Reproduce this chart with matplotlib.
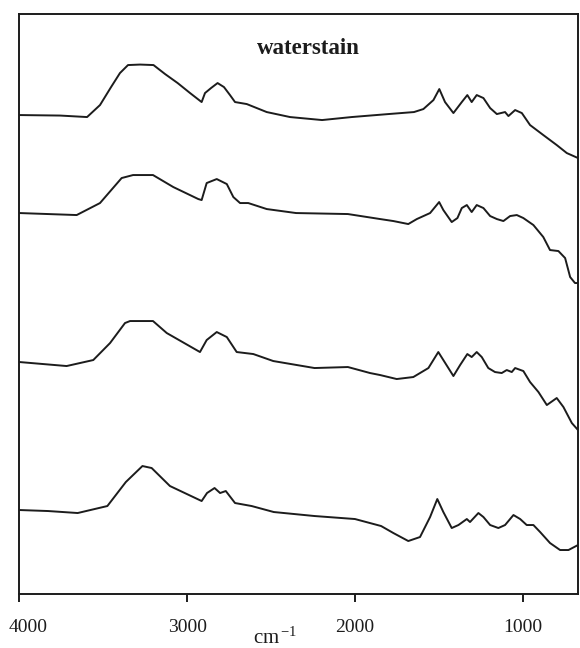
import numpy as np
import matplotlib.pyplot as plt
from matplotlib.transforms import ScaledTranslation

plt.rcParams['font.family'] = ['Liberation Serif', 'DejaVu Serif']
plt.rcParams['mathtext.fontset'] = 'stix'

# wavenumbers (cm-1) and signal (arbitrary units, offset per trace)
wn1 = [4000, 3758, 3597, 3520, 3454, 3401, 3353, 3281, 3201, 3132, 3057, 2983, 2914, 2894,
       2858, 2819, 2781, 2745, 2715, 2645, 2526, 2387, 2196, 2020, 1800, 1648, 1592, 1532,
       1497, 1463, 1413, 1363, 1330, 1304, 1274, 1234, 1194, 1154, 1105, 1085, 1045, 1005,
       956, 877, 797, 737, 670]
s1 = [479, 478.5, 477, 489, 507, 521, 529, 529.5, 529, 520, 511, 501, 492, 501,
      506, 511, 507, 499, 492, 490, 482, 477, 474, 477, 480, 482, 485, 494,
      505, 492, 481, 492, 499, 492, 499, 496, 486, 480, 482, 478, 484, 481,
      469, 459, 449, 441, 436]

wn2 = [4000, 3659, 3520, 3391, 3323, 3204, 3083, 2934, 2914, 2884, 2824, 2764, 2725, 2685,
       2636, 2526, 2351, 2042, 1850, 1771, 1682, 1631, 1552, 1498, 1473, 1423, 1389, 1363,
       1333, 1304, 1274, 1234, 1194, 1154, 1115, 1075, 1035, 996, 936, 877, 837, 787,
       747, 717, 688, 670]
s2 = [381, 379, 391, 416, 419, 419, 407, 395, 394, 411, 415, 410, 397, 391,
      391, 385, 381, 380, 375, 373, 370, 375, 381, 392, 384, 372, 376, 386,
      389, 382, 389, 386, 378, 375, 373, 378, 379, 376, 369, 357, 344, 343,
      336, 317, 311, 311]

wn3 = [4000, 3719, 3560, 3460, 3371, 3341, 3204, 3122, 2924, 2884, 2824, 2764, 2705, 2606,
       2487, 2241, 2042, 1910, 1850, 1751, 1652, 1562, 1503, 1473, 1413, 1373, 1330, 1304,
       1274, 1244, 1205, 1165, 1125, 1095, 1065, 1045, 996, 956, 906, 856, 797, 757,
       707, 670]
s3 = [232, 228, 234, 251, 271, 273, 273, 261, 242, 254, 262, 257, 242, 240,
      233, 226, 227, 221, 219, 215, 217, 226, 242, 234, 218, 229, 240, 237,
      242, 237, 226, 222, 221, 224, 222, 226, 223, 212, 202, 189, 196, 187,
      171, 164]

wn4 = [4000, 3830, 3653, 3476, 3366, 3267, 3212, 3103, 2914, 2882, 2837, 2804, 2770, 2715,
       2616, 2484, 2241, 2000, 1844, 1771, 1682, 1612, 1552, 1509, 1473, 1423, 1383, 1333,
       1314, 1264, 1234, 1194, 1145, 1105, 1055, 1015, 976, 936, 896, 837, 777, 727, 670]
s4 = [84, 83, 81, 88, 112, 128, 126, 108, 93, 101, 106, 101, 103, 91,
      88, 82, 78, 75, 68, 61, 53, 57, 77, 95, 82, 66, 69, 75,
      72, 81, 77, 69, 66, 69, 79, 75, 69, 69, 62, 51, 44, 44, 49]

xticks = [4000, 3000, 2000, 1000]
title = 'waterstain'

fig = plt.figure(figsize=(5.8, 6.48), dpi=100)
ax = fig.add_axes([0.0336, 0.0833, 0.963, 0.895])

for wn, s in [(wn1, s1), (wn2, s2), (wn3, s3), (wn4, s4)]:
    ax.plot(wn, s, color='#1c1c1c', lw=1.4, solid_joinstyle='round')

ax.set_xlim(4000, 670)
ax.set_ylim(0, 580)
ax.set_yticks([])
ax.set_xticks(xticks)
ax.set_xticklabels([str(t) for t in xticks], fontsize=14)
ax.tick_params(axis='x', direction='out', length=6, width=1.4, pad=12, colors='#1c1c1c')
for sp in ax.spines.values():
    sp.set_linewidth(1.4)
    sp.set_color('#1c1c1c')

# first label is pushed right so it is not cut at the figure edge
lab = ax.get_xticklabels()[0]
lab.set_transform(lab.get_transform() + ScaledTranslation(0.09, 0, fig.dpi_scale_trans))

ax.text(0.518, 0.931, title, transform=ax.transAxes, ha='center', va='baseline',
        fontsize=16.5, fontweight='bold', color='#1c1c1c')

fig.text(0.474, 0.006, r'cm$^{\,\mathregular{-1}}$', ha='center', va='baseline',
         fontsize=15, color='#1c1c1c')

fig.savefig('out.png', dpi=100)
